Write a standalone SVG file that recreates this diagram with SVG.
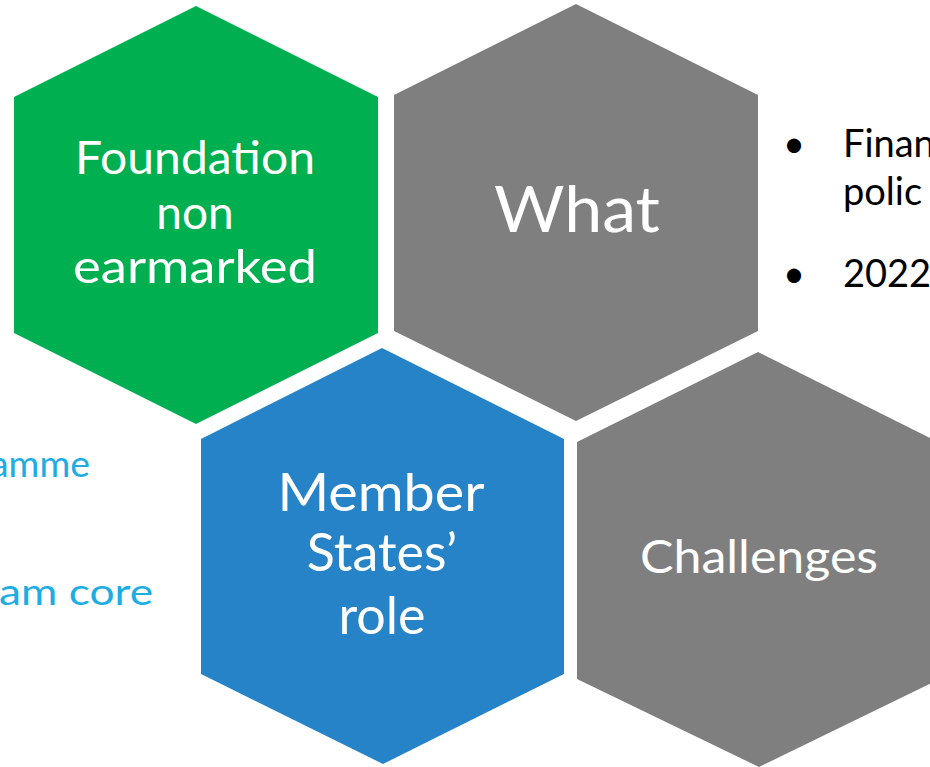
<svg xmlns="http://www.w3.org/2000/svg" width="930" height="767" viewBox="0 0 930 767">
<style>
.lbl{font-family:Lato,"Open Sans","Liberation Sans",sans-serif;fill:#ffffff;text-anchor:middle}
.side{font-family:Lato,"Open Sans","Liberation Sans",sans-serif;fill:#1CADE4;text-anchor:end;font-size:36px}
.bul{font-family:Lato,"Open Sans","Liberation Sans",sans-serif;fill:#000000;font-size:38px}
</style>
<rect width="930" height="767" fill="#ffffff"/>
<g id="side-text">
<text class="side" x="90" y="477" textLength="100" lengthAdjust="spacingAndGlyphs">amme</text>
<text class="side" x="153" y="605" textLength="154" lengthAdjust="spacingAndGlyphs">am core</text>
</g>
<g id="foundation">
<polygon points="196,6 378,97 378,333 196,424 14,333 14,97" fill="#00B050"/>
<text class="lbl" font-size="46" x="195" y="174" textLength="240" lengthAdjust="spacingAndGlyphs">Foundation</text>
<text class="lbl" font-size="46" x="195" y="229">non</text>
<text class="lbl" font-size="46" x="195" y="283" textLength="244" lengthAdjust="spacingAndGlyphs">earmarked</text>
</g>
<g id="what">
<polygon points="576,4 758,95 758,331 576,421 394,331 394,95" fill="#7F7F7F"/>
<text class="lbl" font-size="64" x="577" y="232" textLength="166" lengthAdjust="spacingAndGlyphs">What</text>
</g>
<g id="what-bullets">
<text class="bul" x="783" y="157">•</text>
<text class="bul" x="843" y="157">Finan</text>
<text class="bul" x="843" y="205">polic</text>
<text class="bul" x="783" y="287">•</text>
<text class="bul" x="843" y="287">2022</text>
</g>
<g id="member-states">
<polygon points="382,348 564,439 564,674 383,764 201,674 201,439" fill="#2783C7"/>
<text class="lbl" font-size="52" x="381" y="511" textLength="207" lengthAdjust="spacingAndGlyphs">Member</text>
<text class="lbl" font-size="52" x="382" y="571">States’</text>
<text class="lbl" font-size="52" x="382" y="634">role</text>
</g>
<g id="challenges">
<polygon points="758,352 940,443 940,679 759,767 577,679 577,442" fill="#7F7F7F"/>
<text class="lbl" font-size="46" x="759" y="573" textLength="238" lengthAdjust="spacingAndGlyphs">Challenges</text>
</g>
<g id="connectors"/>
</svg>
